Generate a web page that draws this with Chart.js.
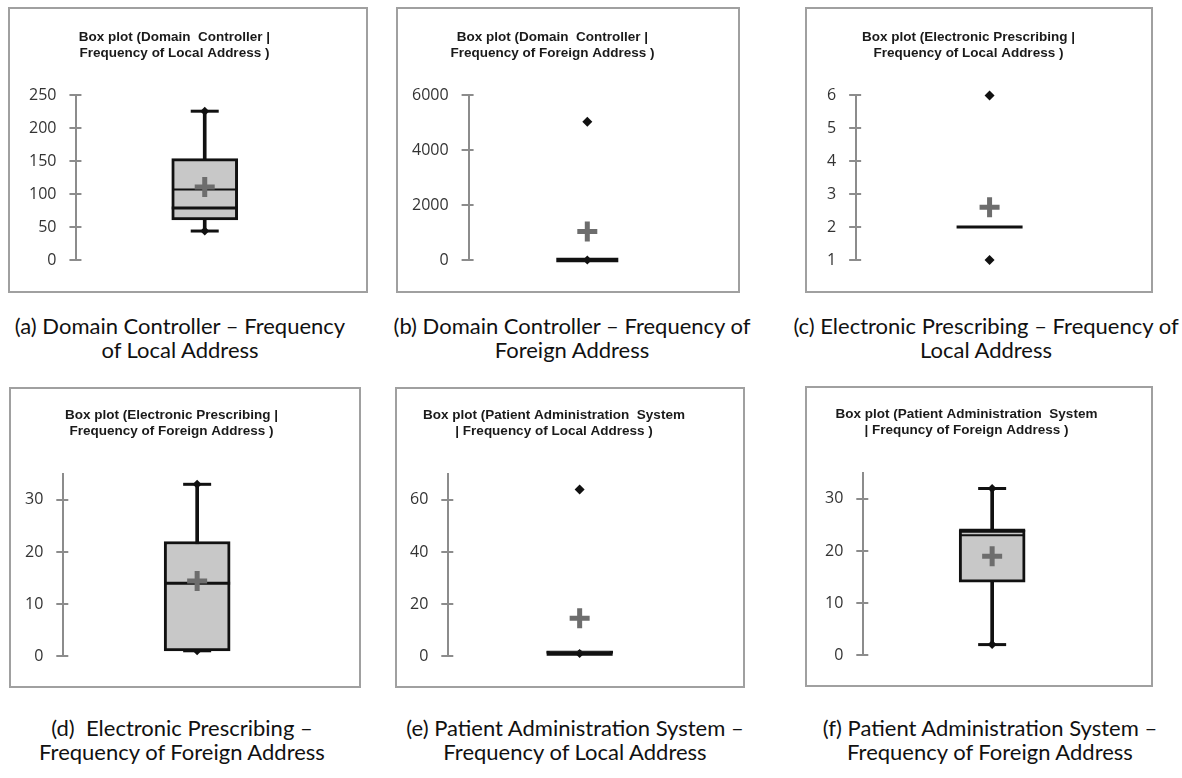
<!DOCTYPE html>
<html>
<head>
<meta charset="utf-8">
<script src="https://cdn.jsdelivr.net/npm/chart.js@4.4.1/dist/chart.umd.min.js"></script>
<style>
  body { margin: 0; background: #fff; }
  #page { position: relative; width: 1182px; height: 778px; overflow: hidden; background: #fff; }
  .panel { position: absolute; box-sizing: border-box; border: 2px solid #a0a0a0; background: #fff; }
  .panel canvas { display: block; }
  .caption { position: absolute; transform: translateX(-50%); text-align: center; white-space: nowrap;
             font-family: Lato, "Open Sans", sans-serif; font-size: 22px; line-height: 24px; color: #111; }
</style>
</head>
<body>
<div id="page"></div>
<script>
// one box plot per panel
const titles = [
  ['Box plot (Domain  Controller |', 'Frequency of Local Address )'],
  ['Box plot (Domain  Controller |', 'Frequency of Foreign Address )'],
  ['Box plot (Electronic Prescribing |', 'Frequency of Local Address )'],
  ['Box plot (Electronic Prescribing |', 'Frequency of Foreign Address )'],
  ['Box plot (Patient Administration  System', '| Frequency of Local Address )'],
  ['Box plot (Patient Administration  System', '| Frequncy of Foreign Address )']
];
const captions = [
  ['(a) Domain Controller \u2013 Frequency', 'of Local Address'],
  ['(b) Domain Controller \u2013 Frequency of', 'Foreign Address'],
  ['(c) Electronic Prescribing \u2013 Frequency of', 'Local Address'],
  ['(d)\u00a0 Electronic Prescribing \u2013', 'Frequency of Foreign Address'],
  ['(e) Patient Administration System \u2013', 'Frequency of Local Address'],
  ['(f) Patient Administration System \u2013', 'Frequency of Foreign Address']
];

// y axis range and tick step
const yMin  = [0, 0, 1, 0, 0, 0];
const yMax  = [250, 6000, 6, 35, 70, 35];
const yStep = [50, 2000, 1, 10, 20, 10];

// box statistics (null = no whisker on that side)
const lowWhisker  = [44, 0, null, 1, 1, 2];
const q1          = [61, 0, 2, 1, 1, 14];
const median      = [79, 0, 2, 14, 1, 24];
const innerLine   = [107, null, null, null, null, 23];
const q3          = [154, 0, 2, 22, 2, 24];
const highWhisker = [226, null, null, 33, null, 32];
const means       = [111, 1040, 2.6, 14.4, 14.5, 19];
const outliers    = [[], [5040], [1, 6], [], [64], []];

// panel frames, plot padding and caption anchors
const frames = [
  { left: 8,   top: 7,   width: 360, height: 286 },
  { left: 396, top: 7,   width: 344, height: 286 },
  { left: 805, top: 7,   width: 348, height: 286 },
  { left: 9,   top: 387, width: 352, height: 301 },
  { left: 395, top: 387, width: 350, height: 301 },
  { left: 805, top: 386, width: 348, height: 301 }
];
const padLeft  = [6, 1, 7, 1, 0, 5];
const padRight = [33, 32, 28, 28, 32, 30];
const captionAt = [
  { x: 180, y: 314 }, { x: 572, y: 314 }, { x: 986, y: 314 },
  { x: 182, y: 716 }, { x: 575, y: 716 }, { x: 990, y: 716 }
];

const axisGrey = '#8c8c8c';
const ink = '#111111';

// tick marks also poke a few px into the plot
const innerTicks = {
  id: 'innerTicks',
  beforeDatasetsDraw(chart) {
    const y = chart.scales.y;
    const ctx = chart.ctx;
    const x0 = chart.chartArea.left;
    ctx.save();
    ctx.strokeStyle = axisGrey;
    ctx.lineWidth = 2;
    y.ticks.forEach(t => {
      const py = Math.round(y.getPixelForValue(t.value));
      ctx.beginPath();
      ctx.moveTo(x0, py);
      ctx.lineTo(x0 + 5, py);
      ctx.stroke();
    });
    ctx.restore();
  }
};

function pointSet(values, style, radius, color, width, order) {
  return {
    type: 'line',
    data: values.map(v => ({ x: 'box', y: v })),
    showLine: false,
    clip: false,
    pointStyle: style,
    pointRadius: radius,
    pointHoverRadius: radius,
    pointBorderColor: color,
    pointBackgroundColor: color,
    pointBorderWidth: width,
    order: order
  };
}

function buildChart(i) {
  const f = frames[i];
  const panel = document.createElement('div');
  panel.className = 'panel';
  Object.assign(panel.style, { left: f.left + 'px', top: f.top + 'px', width: f.width + 'px', height: f.height + 'px' });
  const canvas = document.createElement('canvas');
  canvas.width = f.width - 4;
  canvas.height = f.height - 4;
  panel.appendChild(canvas);
  document.getElementById('page').appendChild(panel);

  const ends = [lowWhisker[i], highWhisker[i]].filter(v => v !== null);
  const topRow = i < 3;
  // collapsed boxes (q1 ~ q3) show as one heavy bar
  const flat = q3[i] - q1[i] < (yMax[i] - yMin[i]) * 0.02 && q3[i] !== q1[i] || i === 1;

  const datasets = [
    // whisker stem
    { type: 'bar', data: [[lowWhisker[i] ?? q1[i], highWhisker[i] ?? q3[i]]],
      backgroundColor: ink, barThickness: 3, grouped: false, clip: false, order: 10 },
    // whisker caps + end markers
    pointSet(ends, 'line', 14, ink, 3, 9),
    pointSet(ends, 'rectRot', 4.5, ink, 0, 8),
    // box
    { type: 'bar', data: [[q1[i], q3[i]]], backgroundColor: '#c8c8c8', borderColor: ink,
      borderWidth: 3, borderSkipped: false, barThickness: 66, grouped: false, clip: false, order: 5 },
    // median line
    pointSet([median[i]], 'line', i === 1 ? 31 : 33, ink, flat ? 4.5 : 3, 4),
    // second, thinner line inside the box
    pointSet(innerLine[i] === null ? [] : [innerLine[i]], 'line', 32, ink, 2, 3),
    // outliers
    pointSet(outliers[i], 'rectRot', 5, ink, 0, 2),
    // mean
    pointSet([means[i]], 'cross', 10, '#6d6d6d', 5, 1)
  ];

  new Chart(canvas, {
    type: 'bar',
    data: { labels: ['box'], datasets: datasets },
    plugins: [innerTicks],
    options: {
      responsive: false,
      animation: false,
      layout: {
        autoPadding: false,
        padding: { left: padLeft[i], right: padRight[i], top: 0, bottom: topRow ? 31 : 30 }
      },
      plugins: {
        legend: { display: false },
        tooltip: { enabled: false },
        title: {
          display: true,
          text: titles[i],
          color: '#1a1a1a',
          font: { family: 'Liberation Sans', weight: 'bold', size: 13.5, lineHeight: 1.2 },
          padding: topRow ? { top: 20, bottom: 34 } : { top: 18, bottom: 34.5 }
        }
      },
      scales: {
        x: { display: false },
        y: {
          min: yMin[i],
          max: yMax[i],
          afterBuildTicks: (scale) => {
            scale.ticks = scale.ticks.filter(t => Math.abs(((t.value - yMin[i]) / yStep[i]) % 1) < 1e-9);
          },
          ticks: { stepSize: yStep[i], color: '#333333', padding: 13,
                   font: { family: 'Open Sans', size: 16 },
                   callback: (value) => String(value) },
          grid: { drawOnChartArea: false, drawTicks: true, tickLength: 7, color: axisGrey, lineWidth: 2 },
          border: { display: true, color: axisGrey, width: 2 }
        }
      }
    }
  });

  const cap = document.createElement('div');
  cap.className = 'caption';
  cap.style.left = captionAt[i].x + 'px';
  cap.style.top = captionAt[i].y + 'px';
  cap.innerHTML = captions[i].join('<br>');
  document.getElementById('page').appendChild(cap);
}

for (let i = 0; i < titles.length; i++) {
  buildChart(i);
}
</script>
</body>
</html>
